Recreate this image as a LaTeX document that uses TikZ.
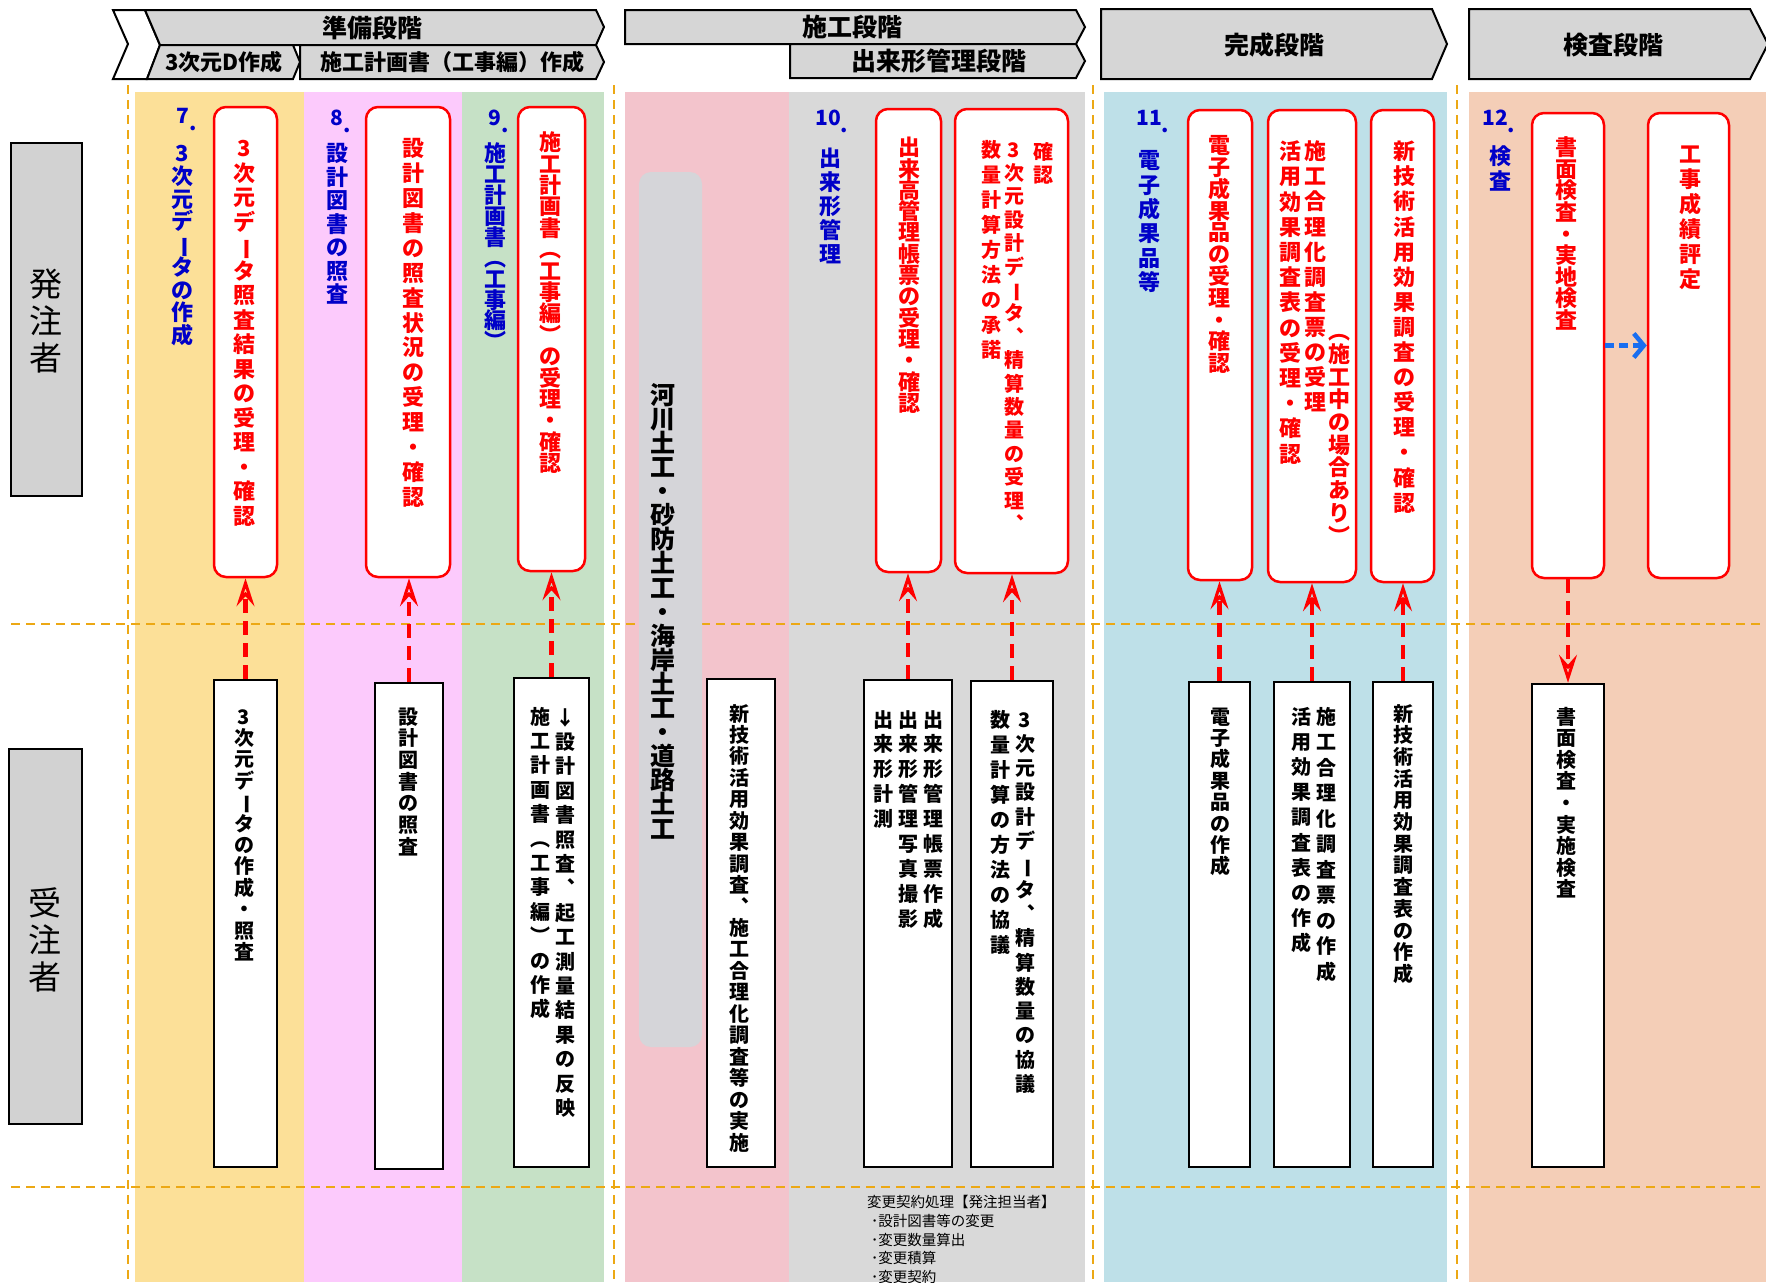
\documentclass[tikz,border=0pt]{standalone}
\usepackage{fontspec}
\usepackage{graphicx}
\setmainfont{Noto Sans CJK JP}
\usetikzlibrary{arrows.meta}

\definecolor{lyel}{RGB}{252,224,152}
\definecolor{lpink}{RGB}{252,202,252}
\definecolor{lgreen}{RGB}{198,225,198}
\definecolor{lrose}{RGB}{243,196,204}
\definecolor{lgray}{RGB}{217,217,217}
\definecolor{lblue}{RGB}{190,224,232}
\definecolor{lpeach}{RGB}{244,206,183}
\definecolor{jpred}{RGB}{255,0,0}
\definecolor{jpblue}{RGB}{0,0,200}
\definecolor{arrblue}{RGB}{25,110,240}
\definecolor{dashor}{RGB}{236,168,20}
\definecolor{bannergray}{RGB}{214,214,214}
\definecolor{barg}{RGB}{213,213,217}
\definecolor{roleg}{RGB}{210,210,210}

\ExplSyntaxOn
\NewDocumentCommand\vtmap{mm}{ \tl_map_inline:nn {#2} { #1 {##1} } }
\NewDocumentCommand\vtcharcase{m}
  {
    \str_case:nnF {#1}
      {
        {ー}{\rotatebox[origin=c]{-90}{ー}}
        {（}{︵}
        {）}{︶}
        {、}{︑}
      }
      {#1}
  }
\ExplSyntaxOff
\newdimen\vtpitch
\newcommand\vtrow[1]{\hbox to 1em{\hss\vrule height .85em depth \dimexpr\vtpitch-.85em\relax width 0pt\smash{\vtcharcase{#1}}\hss}}
\NewDocumentCommand\vt{O{1.1em}m}{\vtpitch=#1\relax\vtop{\offinterlineskip\vtmap{\vtrow}{#2}}}

% node from corners: style, name, x1, y1, x2, y2
\newcommand\cbox[6]{\node[#1, minimum width={#5-#3}, minimum height={#6-#4}] (#2) at ({(#3+#5)/2},{(#4+#6)/2}) {};}
% vertical text column: style, name, x, ytop, pitch, text
\newcommand\vcol[6]{\node[#1] (#2) at (#3,#4) {\vt[#5pt]{#6}};}

\tikzset{
  vtn/.style={anchor=north, inner sep=0pt, outer sep=0pt},
  redt/.style={vtn, text=jpred, font=\bfseries\fontsize{22}{22}\selectfont},
  redts/.style={vtn, text=jpred, font=\bfseries\fontsize{20}{20}\selectfont},
  bluet/.style={vtn, text=jpblue, font=\bfseries\fontsize{22}{22}\selectfont},
  bluen/.style={vtn, text=jpblue, font=\bfseries\fontsize{21}{21}\selectfont},
  blackt/.style={vtn, text=black, font=\bfseries\fontsize{20}{20}\selectfont},
  bart/.style={vtn, text=black, font=\bfseries\fontsize{25}{25}\selectfont},
  rolet/.style={vtn, text=black, font=\fontsize{33}{33}\selectfont},
  ubox/.style={draw=jpred, line width=2.5pt, fill=white, rounded corners=12pt, inner sep=0pt},
  lbox/.style={draw=black, line width=2.5pt, fill=white, inner sep=0pt},
  rolebox/.style={draw=black, line width=2pt, fill=roleg, inner sep=0pt},
  graybar/.style={fill=barg, rounded corners=12pt, inner sep=0pt},
  banner/.style={draw=black, line width=2pt, fill=bannergray},
  hdr/.style={inner sep=0pt, font=\bfseries\fontsize{25}{25}\selectfont},
  hdrs/.style={inner sep=0pt, font=\bfseries\fontsize{22}{22}\selectfont},
  rarr/.style={draw=jpred, line width=4.5pt, dash pattern=on 14pt off 8pt,
    -{Stealth[open,length=28pt,width=18pt,inset=10pt,line width=3pt]}},
  barr/.style={draw=arrblue, line width=4.5pt, dash pattern=on 9pt off 5pt,
    -{Straight Barb[length=10pt,width=24pt,line width=4.5pt]}},
  orline/.style={draw=dashor, line width=2.5pt, dash pattern=on 9pt off 6pt},
}

\begin{document}
\begin{tikzpicture}[x=1pt,y=-1pt]
\useasboundingbox (0,0) rectangle (1766,1282);
\fill[white] (0,0) rectangle (1766,1282);

% lanes
\fill[lyel]   (135,92) rectangle (304,1282);
\fill[lpink]  (304,92) rectangle (462,1282);
\fill[lgreen] (462,92) rectangle (604,1282);
\fill[lrose]  (625,92) rectangle (789,1282);
\fill[lgray]  (789,92) rectangle (1085,1282);
\fill[lblue]  (1104,92) rectangle (1447,1282);
\fill[lpeach] (1469,92) rectangle (1766,1282);

% dashed guide lines
\draw[orline] (128,85) -- (128,1282);
\draw[orline] (614,85) -- (614,1282);
\draw[orline] (1093,85) -- (1093,1282);
\draw[orline] (1457,85) -- (1457,1282);
\draw[orline] (11,624) -- (1766,624);
\draw[orline] (11,1187) -- (1766,1187);

% header banners
\draw[line width=2pt, fill=white] (113,10) -- (145,10) -- (160,45) -- (147,79) -- (113,79) -- (128,44) -- cycle;
\draw[banner] (145,10) -- (596,10) -- (604,27) -- (596,45) -- (160,45) -- cycle;
\draw[banner] (160,45) -- (293,45) -- (300,62) -- (293,79) -- (147,79) -- cycle;
\draw[banner] (300,45) -- (596,45) -- (604,62) -- (596,79) -- (300,79) -- cycle;
\draw[banner] (625,10) -- (1076,10) -- (1085,27) -- (1076,44) -- (625,44) -- cycle;
\draw[banner] (790,44) -- (1076,44) -- (1085,61) -- (1076,78) -- (790,78) -- cycle;
\draw[banner] (1101,9) -- (1432,9) -- (1447,44) -- (1432,79) -- (1101,79) -- cycle;
\draw[banner] (1469,9) -- (1750,9) -- (1768,44) -- (1750,79) -- (1469,79) -- cycle;
\node[hdr]  (h1) at (372,28) {準備段階};
\node[hdrs] (h2) at (224,62) {3次元D作成};
\node[hdrs] (h3) at (452,62) {施工計画書（工事編）作成};
\node[hdr]  (h4) at (852,27) {施工段階};
\node[hdr]  (h5) at (939,61) {出来形管理段階};
\node[hdr]  (h6) at (1274,45) {完成段階};
\node[hdr]  (h7) at (1613,45) {検査段階};

% role boxes
\cbox{rolebox}{rb1}{11}{143}{82}{496}
\cbox{rolebox}{rb2}{9}{749}{82}{1124}
\vcol{rolet}{rt1}{46}{268}{37}{発注者}
\vcol{rolet}{rt2}{45}{887}{37}{受注者}

% grey band in rose lane
\cbox{graybar}{kasen}{639}{172}{702}{1047}
\vcol{bart}{kasent}{663}{383}{24.1}{河川土工・砂防土工・海岸土工・道路土工}

% blue lane headings
\node[bluen] (n7) at (183,108) {7\rlap{\raisebox{-.35em}{.}}};
\vcol{bluet}{b7}{182}{143}{22.75}{3次元データの作成}
\node[bluen] (n8) at (337,110) {8\rlap{\raisebox{-.35em}{.}}};
\vcol{bluet}{b8}{337}{143}{23.5}{設計図書の照査}
\node[bluen] (n9) at (495,110) {9\rlap{\raisebox{-.35em}{.}}};
\vcol{bluet}{b9}{495}{143}{20.9}{施工計画書（工事編）}
\node[bluen] (n10) at (828,110) {10\rlap{\raisebox{-.35em}{.}}};
\vcol{bluet}{b10}{830}{148}{24}{出来形管理}
\node[bluen] (n11) at (1149,110) {11\rlap{\raisebox{-.35em}{.}}};
\vcol{bluet}{b11}{1149}{150}{24.4}{電子成果品等}
\node[bluen] (n12) at (1495,110) {12\rlap{\raisebox{-.35em}{.}}};
\vcol{bluet}{b12}{1500}{146}{24.8}{検査}

% upper (orderer) boxes
\cbox{ubox}{u7}{214}{107}{277}{577}
\vcol{redt}{u7t}{244}{138}{24.5}{3次元データ照査結果の受理・確認}
\cbox{ubox}{u8}{366}{107}{450}{577}
\vcol{redt}{u8t}{413}{138}{24.9}{設計図書の照査状況の受理・確認}
\cbox{ubox}{u9}{518}{107}{585}{571}
\vcol{redt}{u9t}{550}{132}{21.4}{施工計画書（工事編）の受理・確認}
\cbox{ubox}{u10a}{876}{109}{941}{572}
\vcol{redt}{u10at}{909}{137}{21.3}{出来高管理帳票の受理・確認}
\cbox{ubox}{u10b}{955}{109}{1068}{573}
\vcol{redts}{u10bt1}{1043}{142}{23}{確認}
\vcol{redts}{u10bt2}{1014}{140}{23.4}{3次元設計データ、精算数量の受理、}
\vcol{redts}{u10bt3}{991}{140}{25.1}{数量計算方法の承諾}
\cbox{ubox}{u11a}{1188}{110}{1252}{580}
\vcol{redt}{u11at}{1219}{135}{21.8}{電子成果品の受理・確認}
\cbox{ubox}{u11b}{1268}{110}{1356}{582}
\vcol{redt}{u11bt1}{1290}{141}{25.2}{活用効果調査表の受理・確認}
\vcol{redt}{u11bt2}{1315}{141}{25.1}{施工合理化調査票の受理}
\vcol{redt}{u11bt3}{1339}{321}{22.7}{（施工中の場合あり）}
\cbox{ubox}{u11c}{1371}{110}{1434}{582}
\vcol{redt}{u11ct}{1404}{141}{25.1}{新技術活用効果調査の受理・確認}
\cbox{ubox}{u12a}{1532}{113}{1604}{578}
\vcol{redt}{u12at}{1566}{137}{21.6}{書面検査・実地検査}
\cbox{ubox}{u12b}{1648}{113}{1729}{578}
\vcol{redt}{u12bt}{1690}{144}{25}{工事成績評定}

% lower (contractor) boxes
\cbox{lbox}{l7}{214}{680}{277}{1167}
\vcol{blackt}{l7t}{244}{707}{21.4}{3次元データの作成・照査}
\cbox{lbox}{l8}{375}{683}{443}{1169}
\vcol{blackt}{l8t}{408}{707}{21.7}{設計図書の照査}
\cbox{lbox}{l9}{514}{678}{589}{1167}
\vcol{blackt}{l9t1}{565}{708}{24.4}{↓設計図書照査、起工測量結果の反映}
\vcol{blackt}{l9t2}{540}{707}{24.4}{施工計画書（工事編）の作成}
\cbox{lbox}{lR}{707}{679}{775}{1167}
\vcol{blackt}{lRt}{739}{704}{21.45}{新技術活用効果調査、施工合理化調査等の実施}
\cbox{lbox}{l10a}{864}{680}{952}{1167}
\vcol{blackt}{l10at1}{933}{710}{24.9}{出来形管理帳票作成}
\vcol{blackt}{l10at2}{908}{710}{24.9}{出来形管理写真撮影}
\vcol{blackt}{l10at3}{883}{710}{24.9}{出来形計測}
\cbox{lbox}{l10b}{971}{681}{1053}{1167}
\vcol{blackt}{l10bt1}{1025}{710}{24.3}{3次元設計データ、精算数量の協議}
\vcol{blackt}{l10bt2}{1000}{710}{25}{数量計算の方法の協議}
\cbox{lbox}{l11a}{1189}{682}{1250}{1167}
\vcol{blackt}{l11at}{1220}{707}{21.4}{電子成果品の作成}
\cbox{lbox}{l11b}{1274}{682}{1350}{1167}
\vcol{blackt}{l11bt1}{1326}{707}{25.5}{施工合理化調査票の作成}
\vcol{blackt}{l11bt2}{1301}{707}{25.2}{活用効果調査表の作成}
\cbox{lbox}{l11c}{1373}{682}{1433}{1167}
\vcol{blackt}{l11ct}{1403}{704}{21.7}{新技術活用効果調査表の作成}
\cbox{lbox}{l12}{1532}{684}{1604}{1167}
\vcol{blackt}{l12t}{1566}{707}{21.6}{書面検査・実施検査}

% connectors
\draw[rarr] (l7.north) -- (l7.north |- u7.south);
\draw[rarr] (l8.north) -- (l8.north |- u8.south);
\draw[rarr] (l9.north) -- (l9.north |- u9.south);
\draw[rarr] (l10a.north) -- (l10a.north |- u10a.south);
\draw[rarr] (l10b.north) -- (l10b.north |- u10b.south);
\draw[rarr] (l11a.north) -- (l11a.north |- u11a.south);
\draw[rarr] (l11b.north) -- (l11b.north |- u11b.south);
\draw[rarr] (l11c.north) -- (l11c.north |- u11c.south);
\draw[rarr] (u12a.south) -- (l12.north);
\draw[barr] (u12a.east) -- (u12b.west);

% change-contract note
\node[anchor=north west, inner sep=0pt, align=left, font=\fontsize{14.5}{18.8}\selectfont] (henko) at (867,1195)
  {変更契約処理【発注担当者】\\
   \hspace*{4pt}･設計図書等の変更\\
   \hspace*{4pt}･変更数量算出\\
   \hspace*{4pt}･変更積算\\
   \hspace*{4pt}･変更契約};
\end{tikzpicture}
\end{document}
